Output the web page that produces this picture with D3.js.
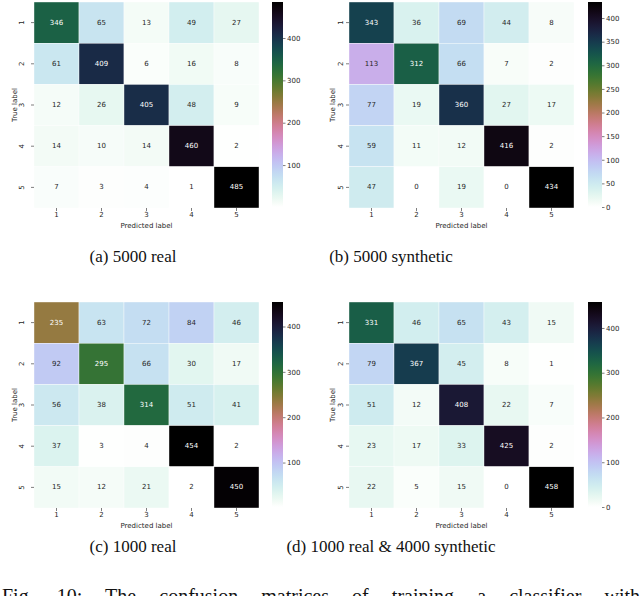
<!DOCTYPE html>
<html>
<head>
<meta charset="utf-8">
<script src="https://cdn.jsdelivr.net/npm/d3@7"></script>
<style>
  body { margin: 0; background: #fff; }
  svg { display: block; }
</style>
</head>
<body>
<div id="chart"></div>
<script>
const labels = ["1", "2", "3", "4", "5"];

const real5000 = [
  [346, 65, 13, 49, 27],
  [61, 409, 6, 16, 8],
  [12, 26, 405, 48, 9],
  [14, 10, 14, 460, 2],
  [7, 3, 4, 1, 485]
];
const synth5000 = [
  [343, 36, 69, 44, 8],
  [113, 312, 66, 7, 2],
  [77, 19, 360, 27, 17],
  [59, 11, 12, 416, 2],
  [47, 0, 19, 0, 434]
];
const real1000 = [
  [235, 63, 72, 84, 46],
  [92, 295, 66, 30, 17],
  [56, 38, 314, 51, 41],
  [37, 3, 4, 454, 2],
  [15, 12, 21, 2, 450]
];
const mixed = [
  [331, 46, 65, 43, 15],
  [79, 367, 45, 8, 1],
  [51, 12, 408, 22, 7],
  [23, 17, 33, 425, 2],
  [22, 5, 15, 0, 458]
];

const captions = ["(a) 5000 real", "(b) 5000 synthetic", "(c) 1000 real", "(d) 1000 real & 4000 synthetic"];
const cbarTicks = [
  [100, 200, 300, 400],
  [0, 50, 100, 150, 200, 250, 300, 350, 400],
  [100, 200, 300, 400],
  [0, 100, 200, 300, 400]
];
const figText = "Fig. 10: The confusion matrices of training a classifier with";

const width = 640, height = 596;
const svg = d3.select("#chart").append("svg")
  .attr("width", width)
  .attr("height", height);

// seaborn "cubehelix_r"
const cmap = t => d3.interpolateCubehelixDefault(1 - t);

function lum(c) {
  const rgb = d3.rgb(c);
  const f = v => { v /= 255; return v <= 0.03928 ? v / 12.92 : Math.pow((v + 0.055) / 1.055, 2.4); };
  return 0.2126 * f(rgb.r) + 0.7152 * f(rgb.g) + 0.0722 * f(rgb.b);
}

const layout = [
  { data: real5000, x: 34, y: 2, cx: 272, cw: 11, ylab: 15, ytick: 22, cap: [133, 262] },
  { data: synth5000, x: 349, y: 2, cx: 588, cw: 14, ylab: 333, ytick: 341, cap: [391, 262] },
  { data: real1000, x: 34, y: 302, cx: 272, cw: 11, ylab: 15, ytick: 22, cap: [133, 552] },
  { data: mixed, x: 349, y: 302, cx: 588, cw: 14, ylab: 333, ytick: 341, cap: [391, 552] }
];
const hmW = 225, hmH = 206;

const defs = svg.append("defs");

layout.forEach((p, i) => {
  const flat = p.data.flat();
  const vmin = d3.min(flat), vmax = d3.max(flat);
  const color = d3.scaleSequential(cmap).domain([vmin, vmax]);

  const x = d3.scaleBand().domain(labels).range([p.x, p.x + hmW]);
  const y = d3.scaleBand().domain(labels).range([p.y, p.y + hmH]);

  const g = svg.append("g");

  const cells = [];
  p.data.forEach((row, r) => row.forEach((v, c) => cells.push({ r: labels[r], c: labels[c], v })));

  g.selectAll("rect.cell")
    .data(cells)
    .enter().append("rect")
      .attr("class", "cell")
      .attr("x", d => x(d.c))
      .attr("y", d => y(d.r))
      .attr("width", x.bandwidth())
      .attr("height", y.bandwidth())
      .attr("fill", d => color(d.v))
      .attr("stroke", "#fff")
      .attr("stroke-width", 0.4);

  g.selectAll("text.annot")
    .data(cells)
    .enter().append("text")
      .attr("class", "annot")
      .attr("x", d => x(d.c) + x.bandwidth() / 2)
      .attr("y", d => y(d.r) + y.bandwidth() / 2)
      .attr("dominant-baseline", "central")
      .style("text-anchor", "middle")
      .style("font-family", "DejaVu Sans")
      .style("font-size", "7px")
      .attr("fill", d => lum(color(d.v)) > 0.408 ? "#262626" : "#fff")
      .text(d => d.v);

  // x axis
  const xAxis = g.append("g");
  labels.forEach(l => {
    const cxp = x(l) + x.bandwidth() / 2;
    xAxis.append("line")
      .attr("x1", cxp).attr("x2", cxp)
      .attr("y1", p.y + hmH).attr("y2", p.y + hmH + 3)
      .attr("stroke", "#262626").attr("stroke-width", 0.6);
    xAxis.append("text")
      .attr("x", cxp).attr("y", p.y + hmH + 9)
      .style("text-anchor", "middle")
      .style("font-family", "DejaVu Sans")
      .style("font-size", "7px")
      .attr("fill", "#262626")
      .text(l);
  });
  g.append("text")
    .attr("x", p.x + hmW / 2).attr("y", p.y + hmH + 20)
    .style("text-anchor", "middle")
    .style("font-family", "DejaVu Sans")
    .style("font-size", "7px")
    .attr("fill", "#262626")
    .text("Predicted label");

  // y axis
  labels.forEach(l => {
    const cyp = y(l) + y.bandwidth() / 2;
    g.append("line")
      .attr("x1", p.x - 3).attr("x2", p.x)
      .attr("y1", cyp).attr("y2", cyp)
      .attr("stroke", "#262626").attr("stroke-width", 0.6);
    g.append("text")
      .attr("transform", `translate(${p.ytick},${cyp}) rotate(-90)`)
      .attr("dominant-baseline", "central")
      .style("text-anchor", "middle")
      .style("font-family", "DejaVu Sans")
      .style("font-size", "7px")
      .attr("fill", "#262626")
      .text(l);
  });
  g.append("text")
    .attr("transform", `translate(${p.ylab},${p.y + hmH / 2}) rotate(-90)`)
    .attr("dominant-baseline", "central")
    .style("text-anchor", "middle")
    .style("font-family", "DejaVu Sans")
    .style("font-size", "7px")
    .attr("fill", "#262626")
    .text("True label");

  // colorbar
  const gradId = "grad" + i;
  const grad = defs.append("linearGradient")
    .attr("id", gradId)
    .attr("x1", 0).attr("y1", 1).attr("x2", 0).attr("y2", 0);
  d3.range(0, 1.0001, 0.02).forEach(t => {
    grad.append("stop")
      .attr("offset", t)
      .attr("stop-color", cmap(t));
  });
  const cy = d3.scaleLinear().domain([vmin, vmax]).range([p.y + hmH - 1, p.y]);
  g.append("rect")
    .attr("x", p.cx).attr("y", p.y)
    .attr("width", p.cw).attr("height", hmH - 1)
    .attr("fill", `url(#${gradId})`);
  const cAxis = g.append("g")
    .attr("transform", `translate(${p.cx + p.cw},0)`)
    .call(d3.axisRight(cy).tickValues(cbarTicks[i]).tickSize(2.5).tickPadding(1.5));
  cAxis.select(".domain").remove();
  cAxis.selectAll("line").attr("stroke", "#262626").attr("stroke-width", 0.6);
  cAxis.selectAll("text")
    .style("font-family", "DejaVu Sans")
    .style("font-size", "7px")
    .attr("fill", "#262626");

  // caption
  svg.append("text")
    .attr("x", p.cap[0]).attr("y", p.cap[1])
    .style("text-anchor", "middle")
    .style("font-family", "Liberation Serif")
    .style("font-size", "17px")
    .attr("fill", "#111")
    .text(captions[i]);
});

// figure caption line, cut off by the bottom edge like the reference
const fig = svg.append("text")
  .attr("x", 2).attr("y", 603)
  .style("font-family", "Liberation Serif")
  .style("font-size", "20px")
  .attr("fill", "#111")
  .text(figText);
const natural = fig.node().getComputedTextLength();
const gaps = figText.split(" ").length - 1;
fig.style("word-spacing", ((width - 2 - natural) / gaps) + "px");
</script>
</body>
</html>
